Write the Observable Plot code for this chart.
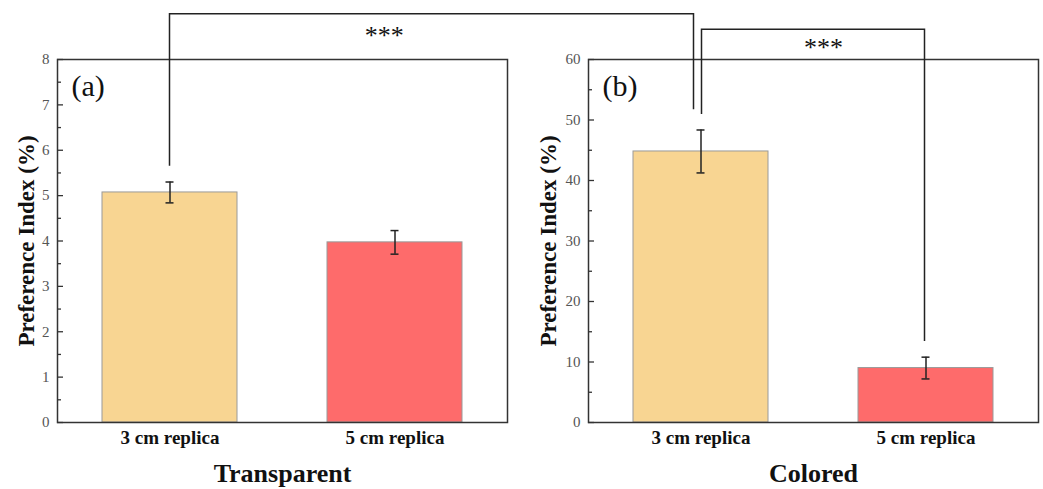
<!DOCTYPE html>
<html>
<head>
<meta charset="utf-8">
<script src="https://cdn.jsdelivr.net/npm/d3@7"></script>
<script src="https://cdn.jsdelivr.net/npm/@observablehq/plot@0.6"></script>
<style>
  body { margin: 0; background: #fff; }
  #fig { position: relative; width: 1043px; height: 489px; font-family: "Liberation Serif", "Times New Roman", serif; }
  #pa, #pb, #ov { position: absolute; top: 0; }
  #pa { left: 0; }
  #pb { left: 522px; }
  #ov { left: 0; pointer-events: none; }
</style>
</head>
<body>
<div id="fig">
  <div id="pa"></div>
  <div id="pb"></div>
  <svg id="ov" width="1043" height="489"></svg>
</div>
<script>
// ---------- data ----------
const categories = ["3 cm replica", "5 cm replica"];
const barColors = ["#F8D592", "#FE6B6B"];

const transparentMean = [5.07, 3.97];
const transparentErr = [0.23, 0.26];
const transparentTicks = [0, 1, 2, 3, 4, 5, 6, 7, 8];
const transparentMinor = [0.5, 1.5, 2.5, 3.5, 4.5, 5.5, 6.5, 7.5];

const coloredMean = [44.8, 9.0];
const coloredErr = [3.55, 1.8];
const coloredTicks = [0, 10, 20, 30, 40, 50, 60];
const coloredMinor = [5, 15, 25, 35, 45, 55];

const panelTags = ["(a)", "(b)"];
const panelTitles = ["Transparent", "Colored"];
const yLabel = "Preference Index (%)";

// significance brackets (values in the data units of the named panel)
const brackets = [
  { fromPanel: 0, fromCat: "3 cm replica", fromY: 5.65,
    toPanel: 1, toCat: "3 cm replica", toY: 51.7,
    topPanel: 0, topY: 9.0, label: "***" },
  { fromPanel: 1, fromCat: "3 cm replica", fromY: 50.9,
    toPanel: 1, toCat: "5 cm replica", toY: 13.4,
    topPanel: 1, topY: 64.9, label: "***" }
];

// ---------- drawing ----------
const FONT = '"Liberation Serif", "Times New Roman", serif';
const FRAME_W = 450;

function makePanel({means, errs, yMax, ticks, minor, tag, title, marginLeft, marginRight, ylabDx}) {
  const data = categories.map((c, i) => ({cat: c, mean: means[i], err: errs[i]}));
  return Plot.plot({
    width: marginLeft + FRAME_W + marginRight,
    height: 489,
    marginTop: 59,
    marginBottom: 67,
    marginLeft,
    marginRight,
    style: {fontFamily: FONT, background: "transparent", overflow: "visible"},
    x: {domain: categories, paddingInner: 0.4, paddingOuter: 0.2, axis: null},
    y: {domain: [0, yMax], axis: null},
    color: {domain: categories, range: barColors},
    marks: [
      Plot.barY(data, {x: "cat", y: "mean", fill: "cat", stroke: "#9a9a9a", strokeWidth: 1}),
      Plot.ruleX(data, {x: "cat", y1: d => d.mean - d.err, y2: d => d.mean + d.err, stroke: "#222", strokeWidth: 1.5}),
      Plot.tickY(data, {x: "cat", y: d => d.mean - d.err, stroke: "#222", strokeWidth: 1.5, insetLeft: 63.5, insetRight: 63.5}),
      Plot.tickY(data, {x: "cat", y: d => d.mean + d.err, stroke: "#222", strokeWidth: 1.5, insetLeft: 63.5, insetRight: 63.5}),
      Plot.frame({stroke: "#333", strokeWidth: 1.5}),
      Plot.tickY(ticks, {y: d => d, stroke: "#333", strokeWidth: 1.3, insetRight: FRAME_W - 6}),
      Plot.tickY(minor, {y: d => d, stroke: "#333", strokeWidth: 1.3, insetRight: FRAME_W - 4}),
      Plot.axisY({ticks, tickSize: 0, tickPadding: 8, fontSize: 15, color: "#555", label: null}),
      Plot.axisX({tickSize: 0, tickPadding: 8, fontSize: 19, fontWeight: "bold", color: "#111", label: null}),
      Plot.text([yLabel], {frameAnchor: "left", textAnchor: "middle", lineAnchor: "middle", dx: ylabDx, rotate: -90, fontSize: 23, fontWeight: "bold", fill: "#111"}),
      Plot.text([title], {frameAnchor: "bottom", textAnchor: "middle", lineAnchor: "middle", dy: 51, fontSize: 26, fontWeight: "bold", fill: "#111"}),
      Plot.text([tag], {frameAnchor: "top-left", textAnchor: "start", lineAnchor: "middle", dx: 14, dy: 27, fontSize: 30, fill: "#111"})
    ]
  });
}

const chartA = makePanel({
  means: transparentMean, errs: transparentErr, yMax: 8,
  ticks: transparentTicks, minor: transparentMinor,
  tag: panelTags[0], title: panelTitles[0],
  marginLeft: 57, marginRight: 14, ylabDx: -31
});
const chartB = makePanel({
  means: coloredMean, errs: coloredErr, yMax: 60,
  ticks: coloredTicks, minor: coloredMinor,
  tag: panelTags[1], title: panelTitles[1],
  marginLeft: 66, marginRight: 5, ylabDx: -40
});
document.getElementById("pa").appendChild(chartA);
document.getElementById("pb").appendChild(chartB);

// overlay brackets, positioned through each panel's Plot scales
const panels = [
  {chart: chartA, left: 0},
  {chart: chartB, left: 522}
];
function px(p, cat) {
  const s = panels[p].chart.scale("x");
  return panels[p].left + s.apply(cat) + s.bandwidth / 2;
}
function py(p, v) {
  return panels[p].chart.scale("y").apply(v);
}
const bracketStyle = [
  {fromDx: 0, toDx: -7, labelFrac: 0.41, labelDy: 30},
  {fromDx: 1, toDx: -1, labelFrac: 0.547, labelDy: 27}
];
const ov = d3.select("#ov");
brackets.forEach((b, i) => {
  const st = bracketStyle[i];
  const x1 = px(b.fromPanel, b.fromCat) + st.fromDx;
  const x2 = px(b.toPanel, b.toCat) + st.toDx;
  const yTop = py(b.topPanel, b.topY);
  const y1 = py(b.fromPanel, b.fromY);
  const y2 = py(b.toPanel, b.toY);
  ov.append("path")
    .attr("d", `M${x1},${y1}V${yTop}H${x2}V${y2}`)
    .attr("fill", "none")
    .attr("stroke", "#222")
    .attr("stroke-width", 1.5);
  ov.append("text")
    .attr("x", x1 + (x2 - x1) * st.labelFrac)
    .attr("y", yTop + st.labelDy)
    .attr("text-anchor", "middle")
    .attr("font-family", FONT)
    .attr("font-size", 26)
    .attr("fill", "#111")
    .text(b.label);
});
</script>
</body>
</html>
